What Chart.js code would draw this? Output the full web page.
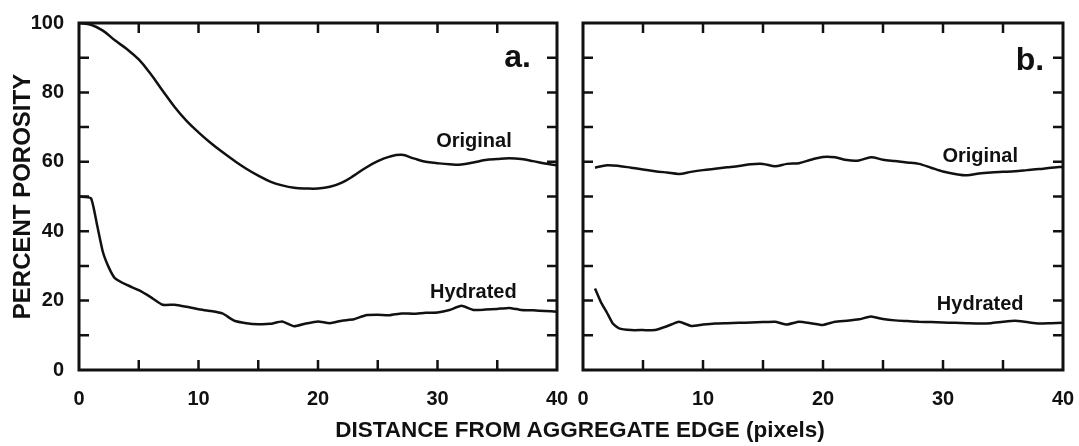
<!DOCTYPE html>
<html>
<head>
<meta charset="utf-8">
<script src="https://cdn.jsdelivr.net/npm/chart.js@4.4.0/dist/chart.umd.min.js"></script>
<style>
  html, body { margin: 0; padding: 0; background: #fff; }
  body { width: 1079px; height: 446px; position: relative; overflow: hidden; }
  canvas { position: absolute; top: 0; }
  #chartA { left: 0; }
  #chartB { left: 570px; }
  #xTitle {
    position: absolute; left: 0; width: 1160px; top: 417px;
    text-align: center; line-height: 26px; color: #111;
    font: bold 22.5px "Liberation Sans", Arial, sans-serif;
  }
</style>
</head>
<body>
<canvas id="chartA" width="570" height="446"></canvas>
<canvas id="chartB" width="509" height="446"></canvas>
<div id="xTitle">DISTANCE FROM AGGREGATE EDGE (pixels)</div>
<script>
// Panel a
const distA = [0, 1, 2, 3, 4, 5, 6, 7, 8, 9, 10, 11, 12, 13, 14, 15, 16, 17, 18, 19, 20,
  21, 22, 23, 24, 25, 26, 27, 28, 29, 30, 31, 32, 33, 34, 35, 36, 37, 38, 39, 40];
const originalA = [100, 99.5, 97.8, 95, 92.5, 89.5, 85.3, 80.5, 75.8, 71.8, 68.5, 65.5, 62.8, 60.3, 58, 56, 54.3,
  53.2, 52.5, 52.3, 52.3, 52.8, 54, 56, 58.3, 60.2, 61.5, 62, 61, 60, 59.6, 59.3, 59.2, 59.8, 60.5,
  60.8, 61, 60.8, 60.2, 59.5, 59];
const hydDistA = [0, 1, 1.5, 2, 2.5, 3, 4, 5, 6, 7, 8, 9, 10, 11, 12, 13, 14, 15, 16, 17, 18, 19, 20,
  21, 22, 23, 24, 25, 26, 27, 28, 29, 30, 31, 32, 33, 34, 35, 36, 37, 38, 39, 40];
const hydratedA = [50, 49.5, 42, 34, 29.5, 26.5, 24.5, 23, 21, 18.8, 18.8, 18.2, 17.5, 17, 16.3, 14.2,
  13.5, 13.2, 13.3, 14, 12.6, 13.4, 14, 13.5, 14.2, 14.6, 15.8, 15.9, 15.8, 16.3, 16.2, 16.5, 16.6,
  17.3, 18.5, 17.3, 17.4, 17.6, 17.9, 17.3, 17.2, 17, 16.8];

// Panel b
const distB = [1, 2, 3, 4, 5, 6, 7, 8, 9, 10, 11, 12, 13, 14, 15, 16, 17, 18, 19, 20,
  21, 22, 23, 24, 25, 26, 27, 28, 29, 30, 31, 32, 33, 34, 35, 36, 37, 38, 39, 40];
const originalB = [58.3, 59, 58.8, 58.3, 57.8, 57.3, 56.9, 56.5, 57.1, 57.6, 58, 58.4, 58.8, 59.3, 59.4,
  58.7, 59.4, 59.6, 60.6, 61.4, 61.3, 60.5, 60.4, 61.3, 60.6, 60.2, 59.8, 59.4, 58.3, 57.2, 56.5,
  56.1, 56.6, 56.9, 57.1, 57.3, 57.6, 57.9, 58.3, 58.6];
const hydDistB = [1, 1.5, 2, 2.5, 3, 4, 5, 6, 7, 8, 9, 10, 11, 12, 13, 14, 15, 16, 17, 18, 19, 20,
  21, 22, 23, 24, 25, 26, 27, 28, 29, 30, 31, 32, 33, 34, 35, 36, 37, 38, 39, 40];
const hydratedB = [23.5, 19.5, 16.5, 13.3, 12, 11.5, 11.5, 11.5, 12.6, 13.9, 12.7, 13.1, 13.4, 13.5,
  13.6, 13.7, 13.8, 13.9, 13.1, 13.9, 13.5, 13, 13.9, 14.2, 14.6, 15.4, 14.7, 14.3, 14.1, 13.9, 13.8,
  13.7, 13.6, 13.5, 13.4, 13.5, 13.9, 14.2, 13.8, 13.4, 13.5, 13.6];

const xTickLabels = [0, 10, 20, 30, 40];
const yTickLabels = [0, 20, 40, 60, 80, 100];

const INK = '#111';
const FONT = '"Liberation Sans", Arial, sans-serif';
const TICK_LEN = 10;

const pts = (xs, ys) => xs.map((x, i) => ({ x, y: ys[i] }));

// box round the plot area with inward ticks on all four sides
const framePlugin = {
  id: 'frame',
  afterDatasetsDraw(chart) {
    const { ctx, chartArea: a, scales: { x, y } } = chart;
    ctx.save();
    ctx.strokeStyle = INK;
    ctx.lineWidth = 2.5;
    ctx.beginPath();
    x.ticks.forEach(t => {
      if (t.value <= x.min || t.value >= x.max) return;
      const px = x.getPixelForValue(t.value);
      ctx.moveTo(px, a.bottom); ctx.lineTo(px, a.bottom - TICK_LEN);
      ctx.moveTo(px, a.top); ctx.lineTo(px, a.top + TICK_LEN);
    });
    y.ticks.forEach(t => {
      if (t.value <= y.min || t.value >= y.max) return;
      const py = y.getPixelForValue(t.value);
      ctx.moveTo(a.left, py); ctx.lineTo(a.left + TICK_LEN, py);
      ctx.moveTo(a.right, py); ctx.lineTo(a.right - TICK_LEN, py);
    });
    ctx.stroke();
    ctx.lineWidth = 3;
    ctx.strokeRect(a.left, a.top, a.right - a.left, a.bottom - a.top);
    ctx.restore();
  }
};

// text labels placed in data units
function notesPlugin(notes) {
  return {
    id: 'notes',
    afterDraw(chart) {
      const { ctx, scales: { x, y } } = chart;
      ctx.save();
      ctx.fillStyle = INK;
      ctx.textAlign = 'center';
      ctx.textBaseline = 'alphabetic';
      notes.forEach(n => {
        ctx.font = 'bold ' + n.size + 'px ' + FONT;
        ctx.fillText(n.text, x.getPixelForValue(n.x), y.getPixelForValue(n.y));
      });
      ctx.restore();
    }
  };
}

function lineSet(data, tension) {
  return {
    data,
    borderColor: INK,
    borderWidth: 2.5,
    pointRadius: 0,
    tension,
    fill: false
  };
}

function makeChart(id, datasets, cfg) {
  return new Chart(document.getElementById(id), {
    type: 'line',
    data: { datasets },
    options: {
      responsive: false,
      animation: false,
      layout: { padding: { left: 0, right: cfg.padRight, top: 23, bottom: 0 } },
      plugins: { legend: { display: false }, tooltip: { enabled: false } },
      scales: {
        x: {
          type: 'linear', min: 0, max: 40,
          afterFit: s => { s.height = 76; s.paddingLeft = 0; s.paddingRight = 0; },
          grid: { display: false },
          border: { display: false },
          ticks: {
            stepSize: 5, autoSkip: false, maxRotation: 0, padding: 9, color: INK,
            font: { family: FONT, size: 20, weight: 'bold' },
            callback: v => xTickLabels.includes(v) ? String(v) : ''
          }
        },
        y: {
          type: 'linear', min: 0, max: 100,
          afterFit: s => { s.width = cfg.yWidth; s.paddingTop = 0; s.paddingBottom = 0; },
          grid: { display: false },
          border: { display: false },
          ticks: {
            display: cfg.yLabels, stepSize: 10, padding: 7, color: INK,
            font: { family: FONT, size: 20, weight: 'bold' },
            callback: v => yTickLabels.includes(v) ? String(v) : ''
          },
          title: {
            display: cfg.yLabels, text: 'PERCENT POROSITY', color: INK,
            font: { family: FONT, size: 24, weight: 'bold' },
            padding: { top: 9, bottom: 0 }
          }
        }
      }
    },
    plugins: [framePlugin, notesPlugin(cfg.notes)]
  });
}

makeChart('chartA', [
  lineSet(pts(distA, originalA), 0.4),
  lineSet(pts(hydDistA, hydratedA), 0.15)
], {
  yWidth: 79, padRight: 13, yLabels: true,
  notes: [
    { text: 'a.', x: 36.7, y: 87.3, size: 32 },
    { text: 'Original', x: 33.05, y: 64.3, size: 20 },
    { text: 'Hydrated', x: 33.0, y: 20.7, size: 20 }
  ]
});

makeChart('chartB', [
  lineSet(pts(distB, originalB), 0.3),
  lineSet(pts(hydDistB, hydratedB), 0.15)
], {
  yWidth: 13, padRight: 16, yLabels: false,
  notes: [
    { text: 'b.', x: 37.25, y: 86.5, size: 32 },
    { text: 'Original', x: 33.1, y: 59.9, size: 20 },
    { text: 'Hydrated', x: 33.1, y: 17.3, size: 20 }
  ]
});
</script>
</body>
</html>
